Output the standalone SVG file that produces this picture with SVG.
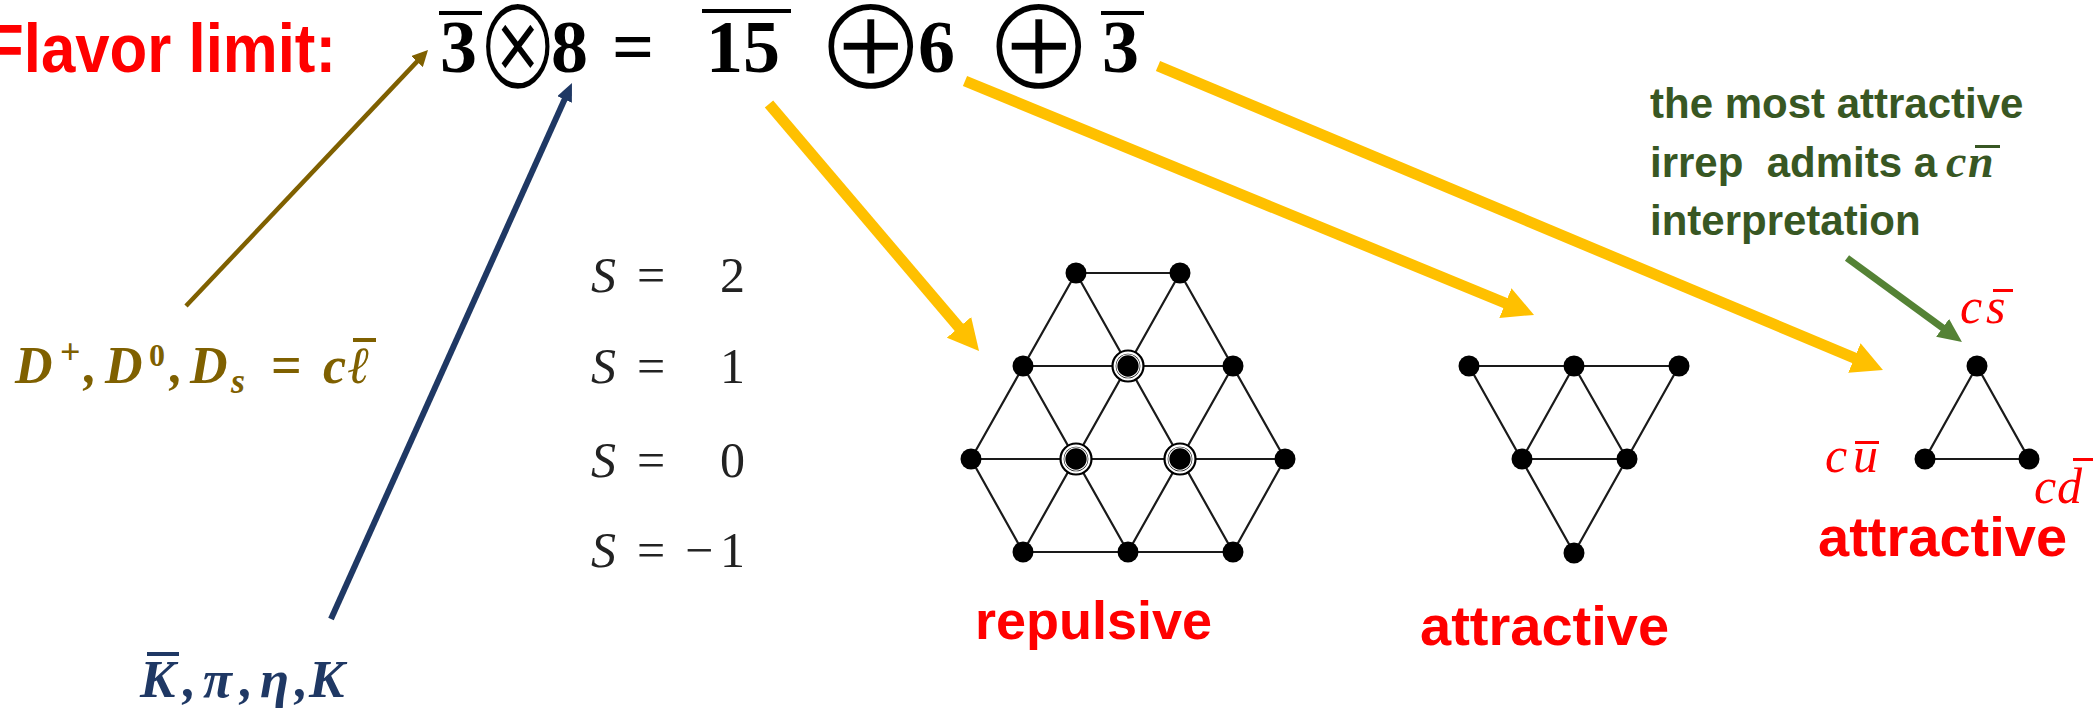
<svg xmlns="http://www.w3.org/2000/svg" width="2100" height="711" viewBox="0 0 2100 711">
<style>
.eq{font-family:"Liberation Serif",serif;font-weight:bold;font-size:74px;fill:#000}
.op{font-family:"DejaVu Sans",sans-serif;font-size:136px;fill:#000;stroke:#fff;stroke-width:4.3}
.bar{fill:#000}
.red{font-family:"Liberation Sans",Arial,sans-serif;font-weight:bold;fill:#FF0000}
.grn{font-family:"Liberation Sans",Arial,sans-serif;font-weight:bold;font-size:42px;fill:#385723}
.mi{font-family:"Liberation Serif",serif;font-style:italic;font-weight:bold}
.ri{font-family:"Liberation Serif",serif;font-style:italic;font-size:50px;fill:#FF0000}
.s{font-family:"Liberation Serif",serif;font-size:50px;fill:#222}
.edge{stroke:#1a1a1a;stroke-width:2.2;fill:none}
.dot{fill:#000}
.yel{stroke:#FFC000;stroke-width:11;fill:none}
</style>
<defs>
<marker id="mY" markerUnits="userSpaceOnUse" viewBox="0 0 31 32" markerWidth="31" markerHeight="32" refX="1" refY="16" orient="auto"><path d="M0,0 L31,16 L0,32 Z" fill="#FFC000"/></marker>
<marker id="mG" markerUnits="userSpaceOnUse" viewBox="0 0 24 22" markerWidth="24" markerHeight="22" refX="1" refY="11" orient="auto"><path d="M0,0 L24,11 L0,22 Z" fill="#548235"/></marker>
<marker id="mB" markerUnits="userSpaceOnUse" viewBox="0 0 16 16" markerWidth="16" markerHeight="16" refX="1" refY="8" orient="auto"><path d="M0,0 L16,8 L0,16 Z" fill="#7F6000"/></marker>
<marker id="mN" markerUnits="userSpaceOnUse" viewBox="0 0 18 16" markerWidth="18" markerHeight="16" refX="1" refY="8" orient="auto"><path d="M0,0 L18,8 L0,16 Z" fill="#1F3864"/></marker>
</defs>
<rect width="2100" height="711" fill="#fff"/>

<g id="title">
<text class="red" x="-14" y="72" font-size="68" textLength="350" lengthAdjust="spacingAndGlyphs">Flavor limit:</text>
</g>

<g id="equation">
<rect class="bar" x="439" y="11" width="43" height="4"/>
<text class="eq" x="440" y="72">3</text>
<text class="op" x="0" y="0" text-anchor="middle" transform="translate(518,89) scale(0.75,1)">⊗</text>
<text class="eq" x="551" y="72">8</text>
<text class="eq" x="612" y="72">=</text>
<rect class="bar" x="702" y="9" width="89" height="4"/>
<text class="eq" x="706" y="72">15</text>
<text class="op" x="871" y="89" text-anchor="middle">⊕</text>
<text class="eq" x="918" y="72">6</text>
<text class="op" x="1039" y="89" text-anchor="middle">⊕</text>
<rect class="bar" x="1101" y="11" width="43" height="4"/>
<text class="eq" x="1102" y="72">3</text>
</g>

<g id="label-D" fill="#7F6000">
<text class="mi" x="15" y="383" font-size="52">D</text>
<text x="60" y="364" font-family="Liberation Serif,serif" font-weight="bold" font-size="36">+</text>
<text class="mi" x="84" y="383" font-size="52">,</text>
<text class="mi" x="105" y="383" font-size="52">D</text>
<text x="149" y="366" font-family="Liberation Serif,serif" font-weight="bold" font-size="32">0</text>
<text class="mi" x="170" y="383" font-size="52">,</text>
<text class="mi" x="190" y="383" font-size="52">D</text>
<text class="mi" x="231" y="393" font-size="36">s</text>
<text x="271" y="383" font-family="Liberation Serif,serif" font-weight="bold" font-size="54">=</text>
<text class="mi" x="323" y="383" font-size="52">c</text>
<text class="mi" x="348" y="383" font-size="52">ℓ</text>
<rect x="353" y="338" width="23" height="4"/>
</g>

<g id="label-K" fill="#1F3864">
<rect x="147" y="652" width="32" height="4"/>
<text class="mi" x="140" y="697" font-size="53">K</text>
<text class="mi" x="183" y="697" font-size="53">,</text>
<text class="mi" x="203" y="697" font-size="53">π</text>
<text class="mi" x="240" y="697" font-size="53">,</text>
<text class="mi" x="260" y="697" font-size="53">η</text>
<text class="mi" x="295" y="697" font-size="53">,</text>
<text class="mi" x="309" y="697" font-size="53">K</text>
</g>

<g id="strangeness">
<text class="s" x="591" y="292" font-style="italic">S</text><text class="s" x="637" y="292">=</text><text class="s" x="720" y="292">2</text>
<text class="s" x="591" y="383" font-style="italic">S</text><text class="s" x="637" y="383">=</text><text class="s" x="720" y="383">1</text>
<text class="s" x="591" y="477" font-style="italic">S</text><text class="s" x="637" y="477">=</text><text class="s" x="720" y="477">0</text>
<text class="s" x="591" y="567" font-style="italic">S</text><text class="s" x="637" y="567">=</text><text class="s" x="685" y="567">−</text><text class="s" x="720" y="567">1</text>
</g>

<g id="irrep-15bar">
<path class="edge" d="M1076,273H1180 M1023,366H1233 M971,459H1285 M1023,552H1233
M1023,366L1128,552 M1076,273L1233,552 M1180,273L1285,459 M971,459L1023,552
M1076,273L971,459 M1180,273L1023,552 M1233,366L1128,552 M1285,459L1233,552"/>
<g class="dot">
<circle cx="1076" cy="273" r="10.5"/><circle cx="1180" cy="273" r="10.5"/>
<circle cx="1023" cy="366" r="10.5"/><circle cx="1233" cy="366" r="10.5"/>
<circle cx="971" cy="459" r="10.5"/><circle cx="1285" cy="459" r="10.5"/>
<circle cx="1023" cy="552" r="10.5"/><circle cx="1128" cy="552" r="10.5"/><circle cx="1233" cy="552" r="10.5"/>
</g>
<g>
<circle cx="1128" cy="366" r="15.5" fill="#fff" stroke="#000" stroke-width="2.2"/>
<circle cx="1128" cy="366" r="12.3" fill="#000"/>
<circle cx="1128" cy="366" r="11.2" fill="none" stroke="#fff" stroke-width="1.1"/>
<circle cx="1076" cy="459" r="15.5" fill="#fff" stroke="#000" stroke-width="2.2"/>
<circle cx="1076" cy="459" r="12.3" fill="#000"/>
<circle cx="1076" cy="459" r="11.2" fill="none" stroke="#fff" stroke-width="1.1"/>
<circle cx="1180" cy="459" r="15.5" fill="#fff" stroke="#000" stroke-width="2.2"/>
<circle cx="1180" cy="459" r="12.3" fill="#000"/>
<circle cx="1180" cy="459" r="11.2" fill="none" stroke="#fff" stroke-width="1.1"/>
</g>
<text class="red" x="975" y="639" font-size="54">repulsive</text>
</g>

<g id="irrep-6">
<path class="edge" d="M1469,366H1679 M1522,459H1627 M1469,366L1574,553 M1679,366L1574,553 M1574,366L1522,459 M1574,366L1627,459"/>
<g class="dot">
<circle cx="1469" cy="366" r="10.5"/><circle cx="1574" cy="366" r="10.5"/><circle cx="1679" cy="366" r="10.5"/>
<circle cx="1522" cy="459" r="10.5"/><circle cx="1627" cy="459" r="10.5"/><circle cx="1574" cy="553" r="10.5"/>
</g>
<text class="red" x="1420" y="645" font-size="56">attractive</text>
</g>

<g id="irrep-3bar">
<path class="edge" d="M1977,366L1925,459H2029Z"/>
<g class="dot">
<circle cx="1977" cy="366" r="10.5"/><circle cx="1925" cy="459" r="10.5"/><circle cx="2029" cy="459" r="10.5"/>
</g>
<text class="ri" x="1960" y="323">c</text><text class="ri" x="1986" y="323">s</text>
<rect x="1993" y="289" width="20" height="3" fill="#FF0000"/>
<text class="ri" x="1825" y="472">c</text><text class="ri" x="1853" y="472">u</text>
<rect x="1855" y="441" width="24" height="3" fill="#FF0000"/>
<text class="ri" x="2034" y="503">c</text><text class="ri" x="2057" y="503">d</text>
<rect x="2073" y="458" width="20" height="3" fill="#FF0000"/>
<text class="red" x="1818" y="556" font-size="56">attractive</text>
</g>

<g id="note">
<text class="grn" x="1650" y="118">the most attractive</text>
<text class="grn" x="1650" y="177" xml:space="preserve">irrep  admits a</text>
<text class="mi" x="1946" y="177" font-size="46" fill="#385723">c</text>
<text class="mi" x="1968" y="177" font-size="46" fill="#385723">n</text>
<rect x="1975" y="145" width="25" height="3" fill="#385723"/>
<text class="grn" x="1650" y="235">interpretation</text>
</g>

<g id="connectors">
<line class="yel" x1="769" y1="104" x2="959.6" y2="328.1" marker-end="url(#mY)"/>
<line class="yel" x1="965" y1="81" x2="1506.3" y2="303.5" marker-end="url(#mY)"/>
<line class="yel" x1="1158" y1="66" x2="1855.3" y2="358.4" marker-end="url(#mY)"/>
<line x1="1847" y1="258" x2="1943.4" y2="328.4" stroke="#548235" stroke-width="7" marker-end="url(#mG)"/>
<line x1="186" y1="306" x2="417.7" y2="60.9" stroke="#7F6000" stroke-width="4.5" marker-end="url(#mB)"/>
<line x1="331" y1="619" x2="565" y2="98.5" stroke="#1F3864" stroke-width="6" marker-end="url(#mN)"/>
</g>
</svg>
